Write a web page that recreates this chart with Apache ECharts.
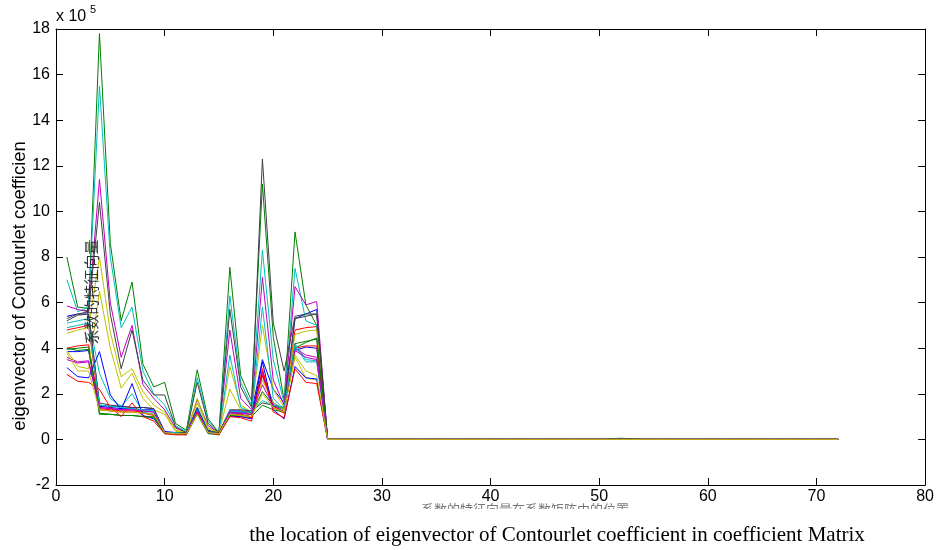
<!DOCTYPE html>
<html>
<head>
<meta charset="utf-8">
<script src="https://cdn.jsdelivr.net/npm/echarts@6/dist/echarts.min.js"></script>
<style>
  html, body { margin: 0; padding: 0; background: #fff; }
  #chart { width: 937px; height: 550px; }
</style>
</head>
<body>
<div id="chart"></div>
<script>
// values in units of 10^5, x = 1..24 (from x = 25 on every line sits at 0)
const b1 = [5.4, 5.5, 5.5, 1.5, 1.45, 1.45, 1.4, 1.4, 1.35, 0.35, 0.3, 0.3, 1.4, 0.4, 0.3, 1.25, 1.25, 1.2, 3.5, 2.2, 1.6, 5.3, 5.5, 5.7]
const g1 = [8.0, 5.8, 5.75, 17.8, 8.6, 5.2, 6.9, 3.3, 2.3, 2.5, 0.7, 0.4, 3.05, 0.9, 0.3, 7.55, 2.8, 1.7, 11.2, 4.5, 1.7, 9.1, 5.9, 5.0]
const r1 = [4.8, 4.9, 5.0, 1.35, 1.3, 1.25, 1.25, 1.2, 1.1, 0.3, 0.25, 0.25, 1.2, 0.3, 0.25, 1.1, 1.1, 1.0, 3.0, 1.5, 1.2, 4.8, 4.9, 4.95]
const c1 = [7.0, 5.6, 5.8, 15.5, 8.0, 4.9, 5.8, 3.0, 2.0, 1.5, 0.6, 0.35, 2.7, 0.8, 0.3, 6.3, 2.5, 1.5, 8.3, 3.5, 1.6, 7.5, 5.2, 5.0]
const m1 = [5.85, 5.7, 5.6, 11.4, 6.0, 3.6, 5.0, 2.4, 1.8, 1.3, 0.5, 0.3, 1.75, 0.6, 0.3, 4.8, 1.8, 1.3, 7.1, 2.6, 1.5, 6.7, 5.9, 6.05]
const y1 = [4.65, 4.8, 4.9, 8.0, 4.7, 2.75, 3.1, 2.1, 1.5, 1.2, 0.4, 0.3, 1.8, 0.5, 0.3, 3.2, 1.5, 1.2, 5.0, 2.2, 1.4, 4.6, 4.75, 4.8]
const k1 = [5.3, 5.5, 5.6, 10.4, 5.5, 3.1, 4.8, 2.6, 1.95, 1.95, 0.55, 0.3, 2.5, 0.7, 0.3, 5.7, 2.3, 1.4, 12.3, 5.1, 3.0, 5.4, 5.5, 5.5]
const b2 = [3.85, 3.85, 3.9, 1.45, 1.4, 1.35, 1.35, 1.3, 1.3, 0.3, 0.25, 0.25, 1.3, 0.3, 0.25, 1.2, 1.2, 1.15, 2.8, 1.6, 1.3, 3.9, 4.05, 4.0]
const g2 = [3.95, 4.0, 4.05, 1.1, 1.1, 1.05, 1.05, 1.0, 1.0, 0.3, 0.25, 0.25, 1.2, 0.3, 0.25, 1.1, 1.15, 1.1, 2.1, 1.5, 1.3, 4.0, 4.25, 4.45]
const r2 = [4.0, 4.1, 4.15, 1.3, 1.25, 1.2, 1.2, 1.15, 1.05, 0.3, 0.25, 0.25, 1.15, 0.3, 0.25, 1.05, 1.0, 0.95, 2.8, 1.4, 1.15, 4.0, 4.1, 4.1]
const c2 = [5.1, 5.2, 5.3, 2.9, 1.8, 1.45, 2.0, 1.2, 1.1, 0.3, 0.3, 0.25, 1.4, 0.35, 0.25, 3.7, 1.4, 1.2, 5.8, 1.8, 1.3, 4.2, 3.5, 3.45]
const m2 = [3.6, 3.4, 3.45, 1.4, 1.35, 1.3, 1.3, 1.25, 1.2, 0.3, 0.25, 0.25, 1.3, 0.3, 0.25, 1.15, 1.15, 1.1, 2.9, 1.5, 1.2, 4.0, 3.7, 3.6]
const y2 = [3.9, 3.2, 3.1, 6.5, 4.0, 2.25, 2.9, 1.8, 1.3, 1.1, 0.35, 0.3, 1.6, 0.45, 0.3, 2.2, 1.3, 1.1, 2.6, 1.6, 1.3, 3.6, 2.7, 2.6]
const k2 = [5.2, 5.45, 5.5, 1.6, 1.5, 1.45, 1.4, 1.4, 1.35, 0.3, 0.3, 0.3, 1.35, 0.35, 0.3, 1.3, 1.3, 1.25, 1.6, 1.5, 1.4, 5.3, 5.4, 5.5]
const b3 = [3.15, 2.75, 2.7, 3.85, 1.95, 1.3, 2.45, 1.05, 0.9, 0.3, 0.25, 0.25, 1.35, 0.3, 0.25, 1.0, 1.0, 0.9, 3.4, 1.3, 0.9, 3.2, 2.7, 2.65]
const g3 = [4.0, 3.9, 3.95, 1.15, 1.1, 1.05, 1.05, 1.0, 0.95, 0.25, 0.25, 0.2, 1.1, 0.25, 0.2, 1.05, 1.05, 1.0, 1.5, 1.3, 1.2, 4.2, 4.3, 4.4]
const r3 = [2.85, 2.55, 2.5, 2.2, 1.4, 1.0, 1.6, 1.0, 0.8, 0.25, 0.2, 0.2, 1.2, 0.3, 0.2, 1.0, 0.95, 0.8, 3.1, 1.2, 0.95, 3.1, 2.5, 2.45]
const c3 = [4.9, 5.0, 5.1, 1.5, 1.45, 1.4, 1.35, 1.3, 1.25, 0.3, 0.3, 0.25, 1.3, 0.3, 0.25, 1.25, 1.2, 1.2, 1.7, 1.5, 1.4, 4.1, 3.4, 3.4]
const m3 = [3.5, 3.35, 3.4, 1.4, 1.35, 1.3, 1.3, 1.25, 1.2, 0.3, 0.25, 0.25, 1.25, 0.3, 0.25, 1.2, 1.15, 1.1, 2.4, 1.45, 1.2, 3.9, 3.6, 3.5]
const y3 = [3.8, 3.0, 3.0, 1.3, 1.25, 1.2, 1.2, 1.15, 1.1, 0.3, 0.25, 0.25, 1.1, 0.3, 0.25, 1.1, 1.05, 1.0, 2.0, 1.4, 1.2, 3.7, 3.0, 2.8]

// x = 25..72
const tail = [0, 0, 0, 0, 0, 0, 0, 0, 0, 0, 0, 0, 0, 0, 0, 0, 0, 0, 0, 0, 0, 0, 0, 0,
  0, 0, 0, 0, 0, 0, 0, 0, 0, 0, 0, 0, 0, 0, 0, 0, 0, 0, 0, 0, 0, 0, 0, 0]
const tailBump = [0, 0, 0, 0, 0, 0, 0, 0, 0, 0, 0, 0, 0, 0, 0, 0, 0, 0, 0, 0, 0, 0, 0, 0,
  0, 0, 0.03, 0.05, 0.03, 0, 0, 0, 0, 0, 0, 0, 0, 0, 0, 0, 0, 0, 0, 0, 0, 0, 0, 0]

const xTicks = [0, 10, 20, 30, 40, 50, 60, 70, 80]
const yTicks = [-2, 0, 2, 4, 6, 8, 10, 12, 14, 16, 18]

const heads = [b1, g1, r1, c1, m1, y1, k1, b2, g2, r2, c2, m2, y2, k2, b3, g3, r3, c3, m3, y3]
const colorList = ['#0000ff', '#008000', '#ff0000', '#00bfbf', '#bf00bf', '#bfbf00', '#404040']

const chart = echarts.init(document.getElementById('chart'))

const series = heads.map((head, i) => {
  const values = head.concat(head === g1 ? tailBump : tail)
  return {
    type: 'line',
    xAxisIndex: 0,
    yAxisIndex: 0,
    showSymbol: false,
    symbol: 'none',
    silent: true,
    lineStyle: { width: 1, color: colorList[i % 7] },
    data: values.map((v, j) => [j + 1, v])
  }
})

const axisCommon = {
  type: 'value',
  axisLine: { show: true, onZero: false, lineStyle: { color: '#000', width: 1 } },
  axisTick: { show: true, inside: true, length: 7, lineStyle: { color: '#000' } },
  splitLine: { show: false }
}

const option = {
  backgroundColor: '#fff',
  animation: false,
  grid: { left: 56, right: 11, top: 29, bottom: 65 },
  xAxis: [
    Object.assign({}, axisCommon, {
      position: 'bottom',
      min: xTicks[0],
      max: xTicks[xTicks.length - 1],
      interval: 10,
      axisLabel: { color: '#000', fontSize: 16, fontFamily: 'Liberation Sans', margin: 4 }
    }),
    Object.assign({}, axisCommon, {
      position: 'top',
      min: xTicks[0],
      max: xTicks[xTicks.length - 1],
      interval: 10,
      axisLabel: { show: false }
    })
  ],
  yAxis: [
    Object.assign({}, axisCommon, {
      position: 'left',
      min: yTicks[0],
      max: yTicks[yTicks.length - 1],
      interval: 2,
      axisLabel: { color: '#000', fontSize: 16, fontFamily: 'Liberation Sans', margin: 6 }
    }),
    Object.assign({}, axisCommon, {
      position: 'right',
      min: yTicks[0],
      max: yTicks[yTicks.length - 1],
      interval: 2,
      axisLabel: { show: false }
    })
  ],
  series: series,
  graphic: [
    {
      type: 'text', left: 56, top: 9,
      style: { text: 'x 10', font: '16px "Liberation Sans"', fill: '#000' }
    },
    {
      type: 'text', left: 90, top: 4,
      style: { text: '5', font: '11px "Liberation Sans"', fill: '#000' }
    },
    {
      type: 'text', x: 20, y: 286, rotation: Math.PI / 2,
      style: {
        text: 'eigenvector of Contourlet coefficien',
        font: '18.5px "Liberation Sans"', fill: '#000',
        align: 'center', verticalAlign: 'middle'
      }
    },
    {
      type: 'text', x: 91, y: 292, rotation: Math.PI / 2, z: 10,
      style: {
        text: '系数的特征向量',
        font: '15px "Noto Sans CJK SC"', fill: '#333',
        align: 'center', verticalAlign: 'middle'
      }
    },
    {
      type: 'text', x: 525, y: 503, z: 10,
      style: {
        text: '系数的特征向量在系数矩阵中的位置',
        font: '13px "Noto Sans CJK SC"', fill: '#777',
        align: 'center', verticalAlign: 'top'
      }
    },
    {
      type: 'rect', z: 11,
      shape: { x: 400, y: 509, width: 260, height: 14 },
      style: { fill: '#fff' }
    },
    {
      type: 'text', x: 557, y: 535, z: 10,
      style: {
        text: 'the location of eigenvector of Contourlet coefficient in coefficient Matrix',
        font: '21px "Liberation Serif"', fill: '#000',
        align: 'center', verticalAlign: 'middle'
      }
    }
  ]
}

chart.setOption(option)
</script>
</body>
</html>
